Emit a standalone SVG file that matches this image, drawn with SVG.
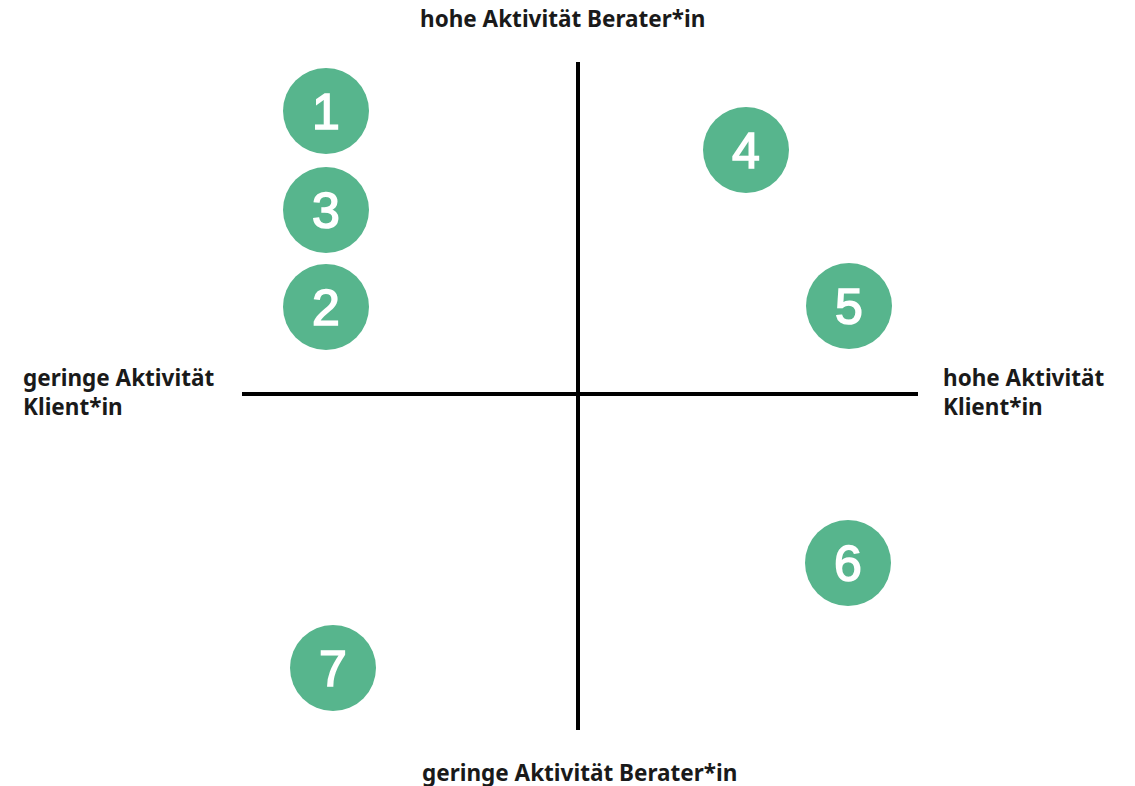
<svg xmlns="http://www.w3.org/2000/svg" width="1135" height="786" viewBox="0 0 1135 786">
<style>
.lbl{font-family:"Noto Sans","Open Sans",sans-serif;font-weight:700;font-size:22.5px;fill:#1a1a1a}
.dot{fill:#57b58d}
.num{font-family:"Liberation Sans",Arial,sans-serif;font-weight:400;font-size:50px;fill:#ffffff;stroke:#ffffff;stroke-width:1.6px;text-anchor:middle}
.axis{stroke:#000;stroke-width:4}
</style>
<rect width="1135" height="786" fill="#ffffff"/>
<g id="axes">
<line class="axis" x1="578" y1="62" x2="578" y2="730"/>
<line class="axis" x1="242" y1="394" x2="918" y2="394"/>
</g>
<g id="labels">
<text class="lbl" x="420" y="27">hohe Aktivität Berater*in</text>
<text class="lbl" x="23" y="386">geringe Aktivität</text>
<text class="lbl" x="23" y="415">Klient*in</text>
<text class="lbl" x="943" y="386">hohe Aktivität</text>
<text class="lbl" x="943" y="415">Klient*in</text>
<text class="lbl" x="422" y="781">geringe Aktivität Berater*in</text>
</g>
<g id="n1"><circle class="dot" cx="326" cy="111" r="43"/><text class="num" x="326" y="129">1</text></g>
<g id="n3"><circle class="dot" cx="326" cy="210" r="43"/><text class="num" x="326" y="228">3</text></g>
<g id="n2"><circle class="dot" cx="326" cy="307" r="43"/><text class="num" x="326" y="325">2</text></g>
<g id="n4"><circle class="dot" cx="746" cy="150" r="43"/><text class="num" x="746" y="168">4</text></g>
<g id="n5"><circle class="dot" cx="849" cy="306" r="43"/><text class="num" x="849" y="324">5</text></g>
<g id="n6"><circle class="dot" cx="848" cy="563" r="43"/><text class="num" x="848" y="581">6</text></g>
<g id="n7"><circle class="dot" cx="333" cy="668" r="43"/><text class="num" x="333" y="686">7</text></g>
</svg>
